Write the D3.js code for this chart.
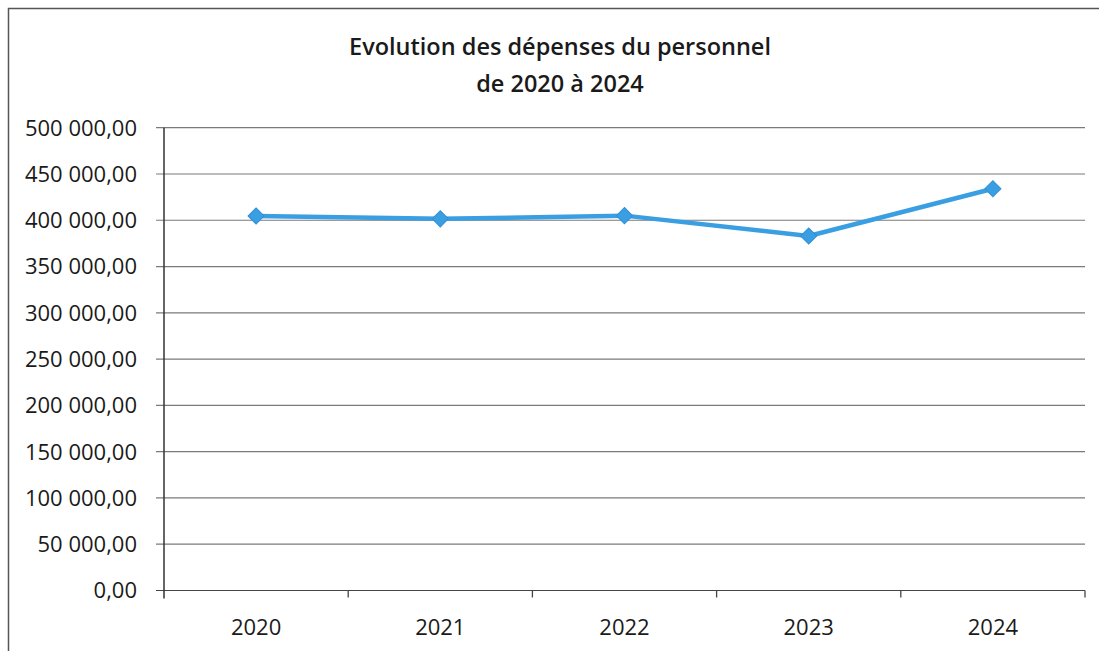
<!DOCTYPE html>
<html>
<head>
<meta charset="utf-8">
<script src="https://cdn.jsdelivr.net/npm/d3@7"></script>
<style>
  body { margin: 0; background: #fff; }
  text { font-family: "Open Sans", sans-serif; fill: #1a1a1a; }
</style>
</head>
<body>
<svg id="chart" width="1099" height="651"></svg>
<script>
// data
const years = ["2020", "2021", "2022", "2023", "2024"];
const depenses = [404600, 401500, 405000, 383000, 434000];
const yTicks = [0, 50000, 100000, 150000, 200000, 250000, 300000, 350000, 400000, 450000, 500000];
const titleLines = ["Evolution des dépenses du personnel", "de 2020 à 2024"];

const svg = d3.select("#chart");

const plot = { left: 164, right: 1085, top: 127.7, bottom: 590.5 };

// frame of the chart area (only left and top edges visible in the scan)
svg.append("path")
    .attr("d", "M8.5,651 L8.5,8.5 L1099,8.5")
    .attr("fill", "none")
    .attr("stroke", "#555")
    .attr("stroke-width", 1.5);

// title
svg.append("text")
    .attr("x", 560)
    .attr("y", 55)
    .attr("text-anchor", "middle")
    .style("font-size", "23.5px")
    .style("font-weight", "600")
    .text(titleLines[0]);
svg.append("text")
    .attr("x", 560)
    .attr("y", 92)
    .attr("text-anchor", "middle")
    .style("font-size", "23.5px")
    .style("font-weight", "600")
    .text(titleLines[1]);

let x = d3.scaleBand()
    .domain(years)
    .range([plot.left, plot.right]);

let y = d3.scaleLinear()
    .domain([0, 500000])
    .range([plot.bottom, plot.top]);

const fmt = (v) => d3.format(",.2f")(v).replace(/,/g, " ").replace(".", ",");

// gridlines + left ticks
svg.append("g")
    .selectAll("line")
    .data(yTicks)
    .enter()
    .append("line")
    .attr("x1", plot.left - 8)
    .attr("x2", plot.right)
    .attr("y1", (d) => y(d))
    .attr("y2", (d) => y(d))
    .attr("stroke", (d) => d == 0 ? "#444" : "#7a7a7a")
    .attr("stroke-width", 1.2);

// y labels
svg.append("g")
    .selectAll("text")
    .data(yTicks)
    .enter()
    .append("text")
    .attr("x", 137)
    .attr("y", (d) => y(d))
    .attr("dy", "0.36em")
    .attr("text-anchor", "end")
    .style("font-size", "22px")
    .text((d) => fmt(d));

// vertical axis line
svg.append("line")
    .attr("x1", plot.left).attr("x2", plot.left)
    .attr("y1", plot.top).attr("y2", plot.bottom + 8)
    .attr("stroke", "#333")
    .attr("stroke-width", 1.5);

// x ticks at category boundaries
let boundaries = years.map((d) => x(d) + x.bandwidth());
svg.append("g")
    .selectAll("line")
    .data(boundaries)
    .enter()
    .append("line")
    .attr("x1", (d) => d).attr("x2", (d) => d)
    .attr("y1", plot.bottom).attr("y2", plot.bottom + 7)
    .attr("stroke", "#444")
    .attr("stroke-width", 1.3);

// x labels
svg.append("g")
    .selectAll("text")
    .data(years)
    .enter()
    .append("text")
    .attr("x", (d) => x(d) + x.bandwidth() / 2)
    .attr("y", 635)
    .attr("text-anchor", "middle")
    .style("font-size", "22px")
    .text((d) => d);

// series line
const pts = years.map((yr, i) => [x(yr) + x.bandwidth() / 2, y(depenses[i])]);
svg.append("path")
    .attr("d", d3.line()(pts))
    .attr("fill", "none")
    .attr("stroke", "#3a9fe2")
    .attr("stroke-width", 4.5)
    .attr("stroke-linejoin", "round");

// diamond markers
svg.append("g")
    .selectAll("path")
    .data(pts)
    .enter()
    .append("path")
    .attr("d", d3.symbol(d3.symbolSquare, 130))
    .attr("transform", (d) => `translate(${d[0]},${d[1]}) rotate(45)`)
    .attr("fill", "#3a9fe2")
    .attr("stroke", "#3290d4")
    .attr("stroke-width", 1);
</script>
</body>
</html>
